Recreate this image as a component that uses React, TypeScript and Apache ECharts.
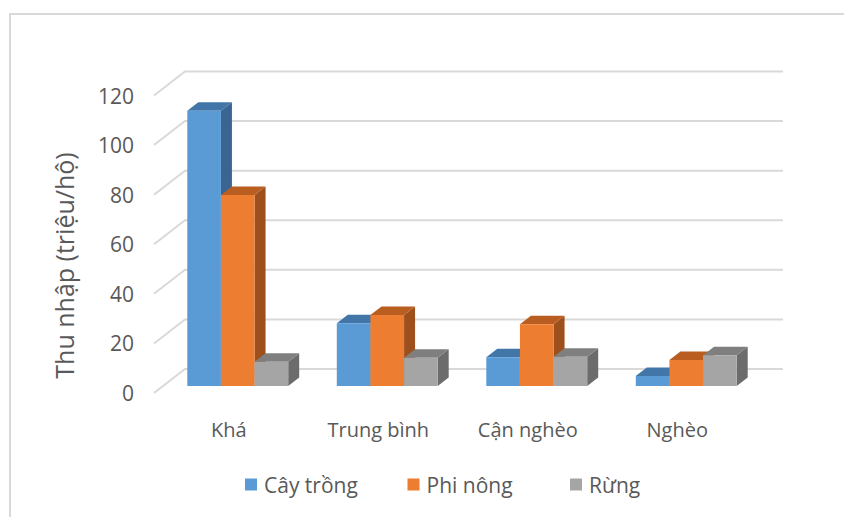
import React, { useEffect, useRef } from "react";
import * as echarts from "echarts";

// Household income by wealth group, million VND per household
const categories = ["Khá", "Trung bình", "Cận nghèo", "Nghèo"];
const seriesNames = ["Cây trồng", "Phi nông", "Rừng"];
const cayTrong = [111, 25.3, 11.6, 4.0];
const phiNong = [77, 28.6, 24.9, 10.5];
const rung = [9.8, 11.4, 11.8, 12.4];
const yTicks = [0, 20, 40, 60, 80, 100, 120];

// front / top / side shades for each series
const palette = [
  { front: "#5b9bd5", top: "#4276a8", side: "#3a6591" },
  { front: "#ed7d31", top: "#b95d20", side: "#9d501c" },
  { front: "#a5a5a5", top: "#7f7f7f", side: "#6c6c6c" },
];

const TEXT = "#595959";
const GRID_LINE = "#d9d9d9";
const FONT = "Open Sans";

// oblique offsets: box depth of a column and floor depth of the wall
const BOX_DX = 11;
const BOX_DY = -8.5;
const WALL_DX = 31;
const WALL_DY = -24;

// legend entries sit in equal-width slots
const LEGEND_LEFT = 245;
const LEGEND_SLOT = 162.5;

function columnSeries(values: number[], si: number) {
  const c = palette[si];
  return {
    type: "custom",
    name: seriesNames[si],
    xAxisIndex: 0,
    yAxisIndex: 0,
    itemStyle: { color: c.front },
    data: values.map((v, i) => [i, v]),
    z: 10 + si,
    renderItem: (params: any, api: any) => {
      const ci = api.value(0);
      const v = api.value(1);
      const base = api.coord([ci, 0]);
      const top = api.coord([ci, v]);
      const band = api.size([1, 0])[0];
      const bw = band * 0.225;
      const x0 = base[0] - 1.5 * bw + si * bw;
      const x1 = x0 + bw;
      const yt = top[1];
      const yb = base[1];
      return {
        type: "group",
        children: [
          {
            type: "polygon",
            shape: {
              points: [
                [x1, yt],
                [x1 + BOX_DX, yt + BOX_DY],
                [x1 + BOX_DX, yb + BOX_DY],
                [x1, yb],
              ],
            },
            style: { fill: c.side },
          },
          {
            type: "polygon",
            shape: {
              points: [
                [x0, yt],
                [x0 + BOX_DX, yt + BOX_DY],
                [x1 + BOX_DX, yt + BOX_DY],
                [x1, yt],
              ],
            },
            style: { fill: c.top },
          },
          {
            type: "rect",
            shape: { x: x0, y: yt, width: bw, height: yb - yt },
            style: { fill: c.front },
          },
        ],
      };
    },
  };
}

export default function App() {
  const ref = useRef<HTMLDivElement>(null);

  useEffect(() => {
    if (!ref.current) return;
    const chart = echarts.init(ref.current, undefined, { renderer: "svg" });

    const legends = seriesNames.map((name, i) => ({
      data: [name],
      left: LEGEND_LEFT + i * LEGEND_SLOT,
      top: 474,
      padding: 0,
      icon: "rect",
      itemWidth: 12,
      itemHeight: 12,
      textStyle: {
        color: TEXT,
        fontSize: 21,
        fontFamily: FONT,
        padding: [0, 0, 0, 2],
      },
    }));

    const option: any = {
      animation: false,
      backgroundColor: "#ffffff",
      textStyle: { fontFamily: FONT },
      grid: [
        // plane through the columns' front faces
        { left: 163, right: 83, top: 88.5, bottom: 131 },
        // front edge of the floor, where the axis labels sit
        { left: 154, right: 92, top: 95.5, bottom: 124 },
      ],
      xAxis: [
        {
          type: "category",
          gridIndex: 0,
          data: categories,
          show: false,
        },
        {
          type: "category",
          gridIndex: 1,
          data: categories,
          axisLine: { show: false },
          axisTick: { show: false },
          axisLabel: {
            color: TEXT,
            fontSize: 20,
            fontFamily: FONT,
            margin: 26,
          },
        },
      ],
      yAxis: [
        {
          type: "value",
          gridIndex: 0,
          min: 0,
          max: 120,
          interval: 20,
          show: false,
        },
        {
          type: "value",
          gridIndex: 1,
          min: 0,
          max: 120,
          interval: 20,
          axisLine: { show: false },
          axisTick: { show: false },
          splitLine: { show: false },
          axisLabel: {
            color: TEXT,
            fontSize: 21,
            fontFamily: FONT,
            margin: 20,
            padding: [5, 0, 0, 0],
          },
        },
      ],
      legend: legends,
      graphic: [
        {
          type: "rect",
          shape: { x: 10, y: 14, width: 900, height: 600 },
          style: { fill: "none", stroke: GRID_LINE, lineWidth: 2 },
          silent: true,
        },
        {
          type: "text",
          x: 64,
          y: 265.5,
          rotation: Math.PI / 2,
          style: {
            text: "Thu nhập (triệu/hộ)",
            fill: TEXT,
            fontSize: 25,
            fontFamily: FONT,
            align: "center",
            verticalAlign: "middle",
          },
        },
      ],
      series: [
        {
          // side wall and back wall gridlines
          type: "custom",
          xAxisIndex: 1,
          yAxisIndex: 1,
          data: yTicks.map((t) => [0, t]),
          z: 1,
          silent: true,
          renderItem: (params: any, api: any) => {
            const cs = params.coordSys;
            const y = api.coord([0, api.value(1)])[1];
            const xl = cs.x;
            const xr = cs.x + cs.width;
            return {
              type: "polyline",
              shape: {
                points: [
                  [xl, y],
                  [xl + WALL_DX, y + WALL_DY],
                  [xr + WALL_DX, y + WALL_DY],
                ],
              },
              style: { stroke: GRID_LINE, lineWidth: 2, fill: "none" },
            };
          },
        },
        columnSeries(cayTrong, 0),
        columnSeries(phiNong, 1),
        columnSeries(rung, 2),
      ],
    };

    chart.setOption(option);
    return () => chart.dispose();
  }, []);

  return (
    <div
      ref={ref}
      style={{ position: "fixed", left: 0, top: 0, width: 844, height: 517 }}
    />
  );
}
